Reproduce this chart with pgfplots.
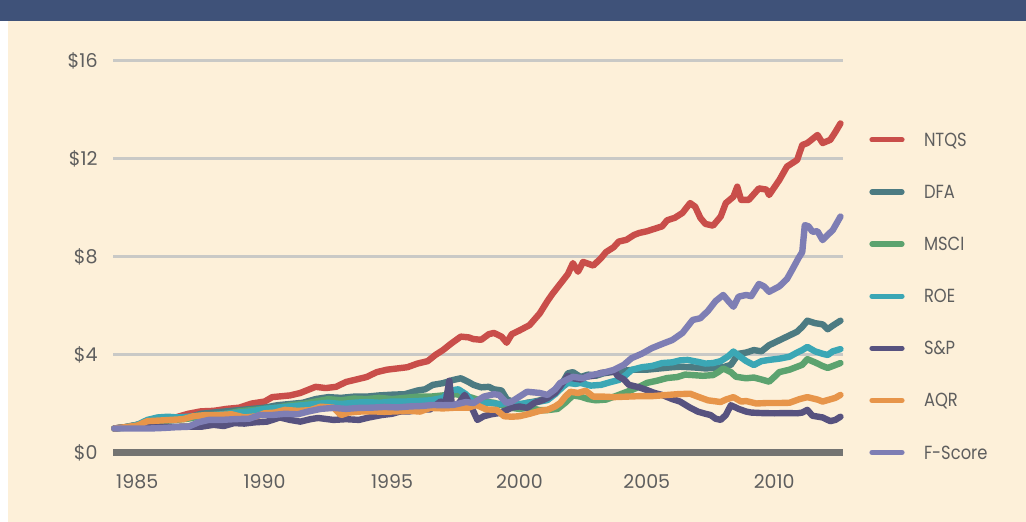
\documentclass[border=0pt]{standalone}
\usepackage{pgfplots}
\pgfplotsset{compat=1.18}
\usepackage{fontspec}
\setmainfont{Poppins}
\newfontfamily\legfont{Poppins}[FakeStretch=0.86]

\definecolor{bgcream}{HTML}{FDF0D9}
\definecolor{topbar}{HTML}{3F5279}
\definecolor{txtgray}{HTML}{5E5E5E}
\definecolor{gridgray}{HTML}{C9C9C6}
\definecolor{zerogray}{HTML}{747472}
\definecolor{cNTQS}{HTML}{C94E4A}
\definecolor{cDFA}{HTML}{4C7B82}
\definecolor{cMSCI}{HTML}{5CA36F}
\definecolor{cROE}{HTML}{3BA7B5}
\definecolor{cSP}{HTML}{57527F}
\definecolor{cAQR}{HTML}{E7954A}
\definecolor{cFS}{HTML}{7E7EB4}

\begin{document}
\begin{tikzpicture}[x=1pt,y=1pt]
\useasboundingbox (0,0) rectangle (513,261);
\fill[bgcream] (0,0) rectangle (513,261);
\fill[white] (0,0) rectangle (4,250.5);
\fill[topbar] (0,250.5) rectangle (513,261);
\begin{axis}[
  at={(56.5pt,34.5pt)}, anchor=south west,
  scale only axis, width=365pt, height=196pt,
  xmin=1984.05, xmax=2012.7, ymin=0, ymax=16,
  axis line style={draw=none},
  tick style={draw=none},
  major tick length=0pt,
  xtick={1985,1990,1995,2000,2005,2010},
  xticklabels={1985,1990,1995,2000,2005,2010},
  ytick={4,8,12,16},
  yticklabels={\$4,\$8,\$12,\$16},
  extra y ticks={0},
  extra y tick labels={\$0},
  extra y tick style={grid style={line width=3.5pt, color=zerogray}},
  ymajorgrids,
  grid style={line width=1.5pt, color=gridgray},
  /pgf/number format/assume math mode=true,
  tick label style={font=\fontsize{9.5}{11}\selectfont, text=txtgray},
  yticklabel style={anchor=east, inner sep=0pt, xshift=-7.5pt},
  xticklabel style={anchor=north, inner sep=0pt, yshift=-10.5pt},
  clip=false,
  every axis plot/.append style={line width=3.2pt, line join=round, line cap=round},
  legend cell align=left,
  legend image code/.code={\draw[#1, line width=2.6pt, line cap=round] (0pt,0.8pt) -- (15pt,0.8pt);},
  legend style={at={(axis cs:2013.72,13.1)}, anchor=north west, draw=none, fill=none,
    font=\legfont\fontsize{9.5}{11}\selectfont, text=txtgray, inner sep=0pt,
    nodes={inner sep=0pt, text height=7pt, text depth=2pt},
    row sep=17.05pt,
    /tikz/every odd column/.append style={column sep=9.7pt}},
]
% NTQS
\addplot[cNTQS] coordinates {
(1984.1,1.00) (1984.5,1.05) (1985.0,1.15) (1985.5,1.25) (1986.0,1.35) (1986.5,1.45)
(1987.0,1.60) (1987.5,1.70) (1988.0,1.72) (1988.5,1.80) (1989.0,1.85) (1989.5,2.02)
(1990.0,2.10) (1990.3,2.28) (1991.0,2.35) (1991.4,2.45) (1992.0,2.70) (1992.4,2.65)
(1992.8,2.70) (1993.2,2.90) (1993.6,3.00) (1994.0,3.10) (1994.4,3.30) (1994.8,3.40)
(1995.2,3.45) (1995.6,3.50) (1996.0,3.65) (1996.4,3.75) (1996.7,4.00) (1997.0,4.20)
(1997.3,4.45) (1997.7,4.75) (1998.0,4.72) (1998.2,4.65) (1998.5,4.62) (1998.8,4.85)
(1999.0,4.90) (1999.3,4.75) (1999.5,4.50) (1999.7,4.85) (2000.0,5.00) (2000.4,5.22)
(2000.8,5.70) (2001.1,6.20) (2001.3,6.50) (2001.6,6.90) (2001.9,7.30) (2002.1,7.75)
(2002.3,7.40) (2002.5,7.80) (2002.9,7.65) (2003.2,7.95) (2003.4,8.20) (2003.7,8.40)
(2003.9,8.63) (2004.2,8.70) (2004.5,8.90) (2004.7,8.98) (2005.0,9.05) (2005.3,9.15)
(2005.6,9.25) (2005.8,9.50) (2006.1,9.60) (2006.4,9.80) (2006.7,10.20) (2006.9,10.05)
(2007.1,9.60) (2007.3,9.35) (2007.6,9.28) (2007.9,9.65) (2008.1,10.20) (2008.4,10.46)
(2008.55,10.87) (2008.7,10.33) (2009.0,10.33) (2009.4,10.80) (2009.7,10.75) (2009.8,10.53)
(2010.2,11.14) (2010.5,11.69) (2010.9,11.96) (2011.1,12.57) (2011.3,12.65) (2011.7,12.98)
(2011.9,12.65) (2012.2,12.78) (2012.4,13.10) (2012.6,13.45)
};
\addlegendentry{NTQS}
% DFA
\addplot[cDFA] coordinates {
(1984.1,1.00) (1984.5,1.05) (1985.0,1.15) (1985.5,1.30) (1986.0,1.40) (1986.5,1.45)
(1987.0,1.45) (1987.5,1.60) (1988.0,1.65) (1988.5,1.70) (1989.0,1.75) (1989.5,1.80)
(1990.0,1.85) (1990.5,1.95) (1991.0,2.00) (1991.5,2.05) (1992.0,2.20) (1992.5,2.28)
(1993.0,2.25) (1993.5,2.30) (1994.0,2.30) (1994.5,2.35) (1995.0,2.38) (1995.5,2.40)
(1996.0,2.55) (1996.3,2.60) (1996.6,2.78) (1997.0,2.85) (1997.4,2.98) (1997.7,3.05)
(1998.0,2.90) (1998.2,2.78) (1998.5,2.68) (1998.8,2.70) (1999.0,2.60) (1999.3,2.55)
(1999.5,2.20) (1999.8,2.05) (2000.0,1.95) (2000.3,2.05) (2000.6,2.10) (2001.0,2.20)
(2001.3,2.40) (2001.6,2.70) (2001.9,3.25) (2002.1,3.30) (2002.4,3.10) (2002.7,3.20)
(2003.0,3.15) (2003.3,3.25) (2003.6,3.30) (2004.0,3.35) (2004.5,3.40) (2005.0,3.40)
(2005.5,3.45) (2006.0,3.50) (2006.3,3.52) (2006.7,3.50) (2007.0,3.48) (2007.3,3.45)
(2007.6,3.47) (2008.0,3.50) (2008.3,3.60) (2008.6,4.05) (2008.9,4.10) (2009.2,4.20)
(2009.5,4.15) (2009.8,4.40) (2010.2,4.60) (2010.6,4.80) (2010.9,4.95) (2011.1,5.15)
(2011.3,5.40) (2011.6,5.30) (2011.9,5.25) (2012.1,5.05) (2012.3,5.20) (2012.6,5.40)
};
\addlegendentry{DFA}
% MSCI
\addplot[cMSCI] coordinates {
(1984.1,1.00) (1984.5,1.03) (1985.0,1.10) (1985.5,1.20) (1986.0,1.30) (1986.5,1.35)
(1987.0,1.40) (1987.5,1.50) (1988.0,1.55) (1988.5,1.60) (1989.0,1.70) (1989.5,1.75)
(1990.0,1.80) (1990.5,1.85) (1991.0,1.95) (1991.5,2.00) (1992.0,2.10) (1992.5,2.20)
(1993.0,2.15) (1993.5,2.22) (1994.0,2.20) (1994.5,2.25) (1995.0,2.20) (1995.5,2.25)
(1996.0,2.30) (1996.5,2.30) (1997.0,2.35) (1997.5,2.40) (1998.0,2.30) (1998.3,2.20)
(1998.6,2.10) (1999.0,2.05) (1999.3,1.95) (1999.6,1.85) (2000.0,1.80) (2000.4,1.85)
(2000.8,1.75) (2001.1,1.75) (2001.5,1.80) (2001.8,2.05) (2002.1,2.35) (2002.4,2.30)
(2002.7,2.20) (2003.0,2.15) (2003.4,2.18) (2003.9,2.37) (2004.4,2.57) (2004.7,2.70)
(2005.0,2.86) (2005.4,2.95) (2005.8,3.06) (2006.2,3.10) (2006.5,3.20) (2006.8,3.18)
(2007.2,3.15) (2007.6,3.18) (2007.8,3.30) (2008.0,3.45) (2008.3,3.30) (2008.5,3.11)
(2008.9,3.05) (2009.2,3.08) (2009.5,3.00) (2009.8,2.91) (2010.0,3.10) (2010.2,3.30)
(2010.6,3.40) (2010.9,3.52) (2011.1,3.60) (2011.3,3.83) (2011.6,3.70) (2011.9,3.55)
(2012.1,3.47) (2012.3,3.55) (2012.6,3.67)
};
\addlegendentry{MSCI}
% ROE
\addplot[cROE] coordinates {
(1984.1,1.00) (1984.5,1.05) (1985.0,1.15) (1985.4,1.35) (1985.8,1.45) (1986.2,1.48)
(1986.6,1.45) (1987.0,1.48) (1987.5,1.52) (1988.0,1.55) (1988.5,1.60) (1989.0,1.65)
(1989.5,1.70) (1990.0,1.80) (1990.5,1.85) (1991.0,1.90) (1991.5,1.95) (1992.0,2.00)
(1992.5,2.05) (1993.0,2.00) (1993.5,2.05) (1994.0,2.08) (1994.5,2.05) (1995.0,2.10)
(1995.5,2.10) (1996.0,2.12) (1996.5,2.15) (1997.0,2.25) (1997.3,2.55) (1997.6,2.60)
(1997.9,2.40) (1998.2,2.05) (1998.5,2.00) (1998.8,2.05) (1999.2,2.00) (1999.6,2.05)
(2000.0,2.00) (2000.4,2.05) (2000.8,2.10) (2001.1,2.16) (2001.4,2.40) (2001.7,2.70)
(2001.9,2.86) (2002.2,2.82) (2002.4,2.86) (2002.8,2.75) (2003.2,2.78) (2003.6,2.90)
(2003.9,2.98) (2004.2,3.20) (2004.4,3.39) (2004.8,3.50) (2005.2,3.55) (2005.6,3.67)
(2006.0,3.70) (2006.3,3.78) (2006.6,3.80) (2007.0,3.72) (2007.3,3.65) (2007.6,3.67)
(2007.9,3.75) (2008.2,3.95) (2008.4,4.14) (2008.7,3.90) (2008.9,3.75) (2009.2,3.59)
(2009.5,3.75) (2009.8,3.80) (2010.2,3.85) (2010.6,3.93) (2010.9,4.10) (2011.1,4.20)
(2011.3,4.33) (2011.6,4.15) (2011.9,4.05) (2012.1,4.00) (2012.3,4.15) (2012.6,4.24)
};
\addlegendentry{ROE}
% S&P
\addplot[cSP] coordinates {
(1984.1,1.00) (1984.5,1.05) (1985.0,1.05) (1985.5,1.08) (1986.0,1.07) (1986.5,1.07)
(1987.0,1.08) (1987.5,1.07) (1988.0,1.15) (1988.4,1.10) (1988.8,1.22) (1989.2,1.20)
(1989.6,1.25) (1990.1,1.28) (1990.6,1.45) (1991.0,1.35) (1991.4,1.28) (1991.8,1.38)
(1992.1,1.43) (1992.7,1.35) (1993.2,1.38) (1993.7,1.35) (1994.1,1.45) (1994.6,1.55)
(1995.0,1.60) (1995.3,1.69) (1995.7,1.70) (1996.0,1.76) (1996.5,1.78) (1996.9,2.10)
(1997.1,2.05) (1997.25,2.95) (1997.35,1.95) (1997.6,2.00) (1997.85,2.37) (1998.0,2.10)
(1998.2,1.69) (1998.35,1.35) (1998.6,1.50) (1998.9,1.58) (1999.2,1.63) (1999.5,1.75)
(1999.7,1.85) (2000.0,1.90) (2000.3,1.84) (2000.6,2.05) (2000.9,2.15) (2001.1,2.24)
(2001.4,2.45) (2001.6,2.71) (2001.9,3.15) (2002.1,3.05) (2002.4,3.00) (2002.6,3.11)
(2002.9,3.15) (2003.2,3.27) (2003.5,3.30) (2003.75,3.32) (2003.85,3.15) (2004.1,3.00)
(2004.3,2.78) (2004.7,2.68) (2005.0,2.57) (2005.3,2.45) (2005.6,2.37) (2006.0,2.20)
(2006.3,2.10) (2006.7,1.85) (2007.0,1.69) (2007.3,1.60) (2007.5,1.55) (2007.7,1.40)
(2007.9,1.35) (2008.1,1.55) (2008.3,1.95) (2008.6,1.80) (2008.9,1.69) (2009.1,1.65)
(2009.5,1.63) (2010.0,1.62) (2010.5,1.63) (2010.9,1.62) (2011.1,1.65) (2011.3,1.76)
(2011.5,1.52) (2011.9,1.45) (2012.2,1.30) (2012.4,1.35) (2012.6,1.48)
};
\addlegendentry{S\&P}
% AQR
\addplot[cAQR] coordinates {
(1984.1,1.00) (1984.5,1.05) (1985.0,1.12) (1985.4,1.30) (1985.8,1.32) (1986.3,1.35)
(1986.8,1.38) (1987.2,1.50) (1987.7,1.55) (1988.2,1.55) (1988.7,1.58) (1989.2,1.45)
(1989.7,1.50) (1990.0,1.62) (1990.4,1.65) (1990.8,1.76) (1991.3,1.72) (1991.8,1.75)
(1992.2,1.89) (1992.7,1.85) (1993.0,1.55) (1993.3,1.65) (1993.7,1.69) (1994.2,1.70)
(1994.7,1.68) (1995.2,1.70) (1995.7,1.72) (1996.1,1.69) (1996.5,1.84) (1997.0,1.82)
(1997.5,1.85) (1998.0,1.85) (1998.3,1.96) (1998.7,1.78) (1999.1,1.76) (1999.4,1.50)
(1999.7,1.48) (2000.0,1.50) (2000.4,1.60) (2000.8,1.72) (2001.1,1.76) (2001.4,1.90)
(2001.6,2.04) (2001.8,2.30) (2002.0,2.50) (2002.3,2.45) (2002.6,2.54) (2002.9,2.30)
(2003.3,2.30) (2003.7,2.28) (2004.2,2.30) (2004.7,2.32) (2005.2,2.32) (2005.7,2.36)
(2006.2,2.40) (2006.7,2.42) (2007.0,2.30) (2007.4,2.15) (2007.9,2.08) (2008.1,2.18)
(2008.4,2.28) (2008.7,2.10) (2008.9,2.12) (2009.3,2.02) (2009.7,2.04) (2010.2,2.04)
(2010.6,2.05) (2011.0,2.20) (2011.3,2.28) (2011.7,2.18) (2011.9,2.10) (2012.1,2.16)
(2012.4,2.25) (2012.6,2.37)
};
\addlegendentry{AQR}
% F-Score
\addplot[cFS] coordinates {
(1984.1,1.00) (1985.0,1.00) (1985.5,1.00) (1986.0,1.02) (1986.5,1.05) (1987.0,1.07)
(1987.4,1.25) (1987.8,1.35) (1988.3,1.35) (1988.8,1.38) (1989.4,1.40) (1989.8,1.55)
(1990.3,1.55) (1990.8,1.60) (1991.3,1.58) (1991.7,1.69) (1992.2,1.80) (1992.7,1.84)
(1993.2,1.80) (1993.7,1.84) (1994.2,1.85) (1994.7,1.88) (1995.2,1.86) (1995.7,1.90)
(1996.2,1.92) (1996.6,1.96) (1997.0,1.95) (1997.4,1.96) (1997.9,2.08) (1998.2,2.04)
(1998.6,2.30) (1999.0,2.40) (1999.2,2.37) (1999.5,2.04) (1999.7,2.10) (2000.0,2.30)
(2000.3,2.50) (2000.8,2.45) (2001.1,2.37) (2001.4,2.60) (2001.6,2.86) (2002.1,3.11)
(2002.5,3.05) (2002.8,3.18) (2003.2,3.25) (2003.7,3.39) (2004.1,3.60) (2004.4,3.87)
(2004.8,4.05) (2005.2,4.28) (2005.6,4.45) (2006.0,4.61) (2006.4,4.90) (2006.8,5.43)
(2007.1,5.50) (2007.4,5.80) (2007.7,6.20) (2008.0,6.45) (2008.2,6.20) (2008.4,5.97)
(2008.6,6.38) (2008.9,6.45) (2009.1,6.40) (2009.4,6.90) (2009.6,6.80) (2009.8,6.58)
(2010.2,6.80) (2010.5,7.10) (2010.7,7.47) (2010.95,7.95) (2011.1,8.20) (2011.2,9.30)
(2011.35,9.25) (2011.5,9.03) (2011.7,9.05) (2011.9,8.69) (2012.1,8.90) (2012.3,9.10)
(2012.6,9.65)
};
\addlegendentry{F-Score}
\end{axis}
\end{tikzpicture}
\end{document}
